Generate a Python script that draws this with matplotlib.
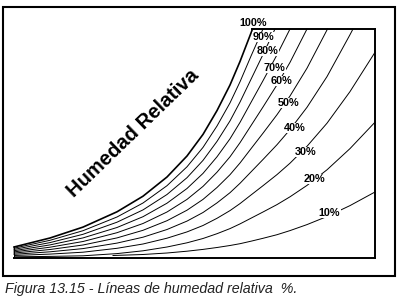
import matplotlib
matplotlib.use("Agg")
import matplotlib.pyplot as plt
from matplotlib.patches import Rectangle

plt.rcParams["font.family"] = ["Liberation Sans", "DejaVu Sans"]

# dry-bulb axis (arbitrary units) and heights of each RH curve
x_cols = [0, 36, 69, 103, 129, 153, 173, 189, 203, 216, 226, 237, 249, 263, 276, 293, 313, 336, 361]

rh_100 = [11, 20, 30.9, 46.2, 61.8, 81, 102, 123.6, 147.4, 173, 196.5, 225]
rh_90 = [9.8, 17.7, 27.3, 41.0, 55.0, 72.3, 91.2, 110.6, 132.0, 155.1, 176.2, 201.9]
rh_80 = [8.6, 15.4, 23.7, 35.8, 48.1, 63.5, 80.3, 97.6, 116.6, 137.1, 155.9, 178.7, 203.5]
rh_70 = [7.3, 13.1, 20.1, 30.5, 41.3, 54.8, 69.5, 84.6, 101.2, 119.2, 135.6, 155.6, 177.3,
         203.2]
rh_60 = [6.1, 10.8, 16.5, 25.3, 34.5, 46.0, 58.6, 71.6, 85.8, 101.2, 115.3, 132.4, 151.0,
         173.2, 195.6]
rh_50 = [4.9, 8.5, 13.0, 20.1, 27.7, 37.3, 47.8, 58.6, 70.5, 83.3, 95.0, 109.3, 124.8,
         143.3, 162.0, 189.8]
rh_40 = [3.7, 6.2, 9.4, 14.9, 20.8, 28.5, 36.9, 45.5, 55.1, 65.3, 74.7, 86.1, 98.5, 113.3,
         128.4, 150.7, 181.4, 223.3]
rh_30 = [2.5, 3.9, 5.8, 9.7, 14.0, 19.8, 26.1, 32.5, 39.7, 47.4, 54.4, 63.0, 72.3, 83.4,
         94.8, 111.7, 134.8, 166.4, 205.7]
rh_20 = [1.2, 1.6, 2.2, 4.4, 7.2, 11.0, 15.2, 19.5, 24.3, 29.4, 34.1, 39.8, 46.0, 53.4,
         61.2, 72.6, 88.2, 109.4, 135.8]

# where the steep curves run into the top of the chart
top_x = [238.5, 249, 261, 276, 293, 313.5, 339]

# 10% line starts further right
x_10 = [99, 129, 153, 173, 189, 203, 216, 226, 237, 249, 263, 276, 293, 313, 336, 361]
rh_10 = [2.5, 3.5, 5, 6.8, 8.6, 10.5, 12.5, 14.3, 16.8, 19.7, 23.3, 27.4, 33.4, 41.5, 52.4, 66]

labels = ["100%", "90%", "80%", "70%", "60%", "50%", "40%", "30%", "20%", "10%"]
label_x = [239, 249.5, 253.5, 260.5, 268, 275, 281, 291.5, 300.5, 315.5]
label_y = [235, 221, 207, 190, 177, 155, 130, 106, 79, 45]

x_max = 361
y_max = 229

fig = plt.figure(figsize=(4.02, 2.97), dpi=100)
fig.patches.append(Rectangle((3 / 402, 1 - 276 / 297), 392 / 402, 269 / 297,
                             transform=fig.transFigure, fill=False,
                             edgecolor="black", linewidth=1.5))

ax = fig.add_axes([14 / 402, 1 - 258 / 297, 361 / 402, 229 / 297])
ax.set_xlim(0, x_max)
ax.set_ylim(0, y_max)
ax.set_xticks([])
ax.set_yticks([])
for side in ["top", "left"]:
    ax.spines[side].set_visible(False)
for side in ["bottom", "right"]:
    ax.spines[side].set_linewidth(1.4)
ax.patch.set_alpha(0)

steep = [rh_100, rh_90, rh_80, rh_70, rh_60, rh_50, rh_40]
for i, ys in enumerate(steep):
    lw = 1.2 if i == 0 else 0.7
    xs = x_cols[:len(ys)] + [top_x[i]]
    ax.plot(xs, ys + [y_max], color="black", lw=lw, clip_on=False)
for ys in [rh_30, rh_20]:
    ax.plot(x_cols[:len(ys)], ys, color="black", lw=0.7)
ax.plot(x_10, rh_10, color="black", lw=0.7)

# closing lines of the chart area
ax.plot([top_x[0], x_max], [y_max, y_max], color="black", lw=1.4, clip_on=False)
ax.plot([0, 0], [0, rh_100[0]], color="black", lw=1.4)

for t, lx, ly in zip(labels, label_x, label_y):
    ax.text(lx, ly, t, fontsize=7.8, fontweight="bold", ha="center", va="center",
            clip_on=False,
            bbox=dict(facecolor="white", edgecolor="none", pad=0.2))

ax.text(119, 125, "Humedad Relativa", fontsize=14.5, fontweight="bold",
        rotation=44, ha="center", va="center", rotation_mode="anchor")

fig.text(5 / 402, 1 - 289 / 297, "Figura 13.15 - Líneas de humedad relativa  %.",
         fontsize=10.3, style="italic", color="#222222", ha="left", va="center")

fig.savefig("out.png", dpi=100)
